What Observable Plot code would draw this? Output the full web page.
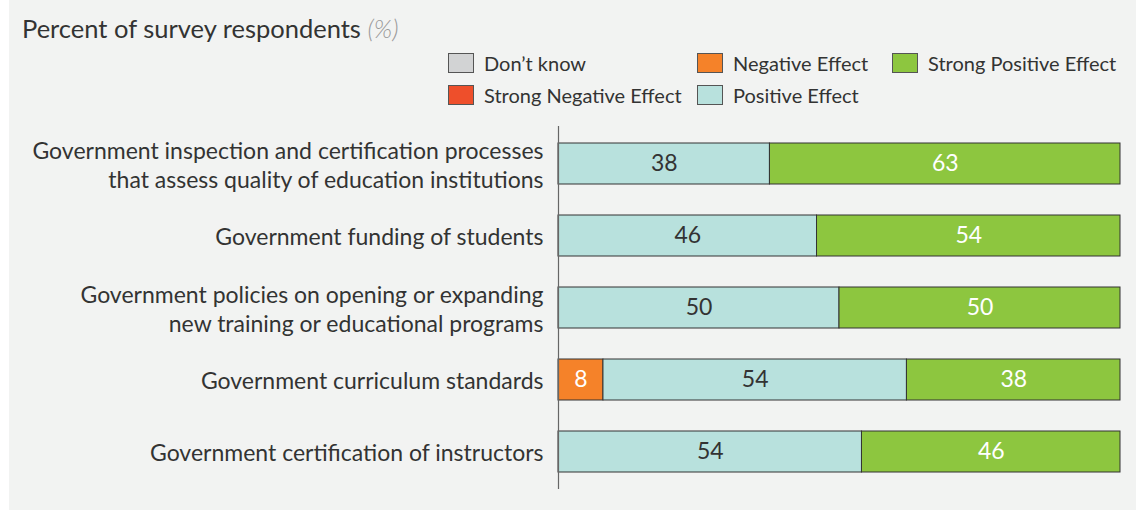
<!DOCTYPE html>
<html>
<head>
<meta charset="utf-8">
<script src="https://cdn.jsdelivr.net/npm/d3@7"></script>
<script src="https://cdn.jsdelivr.net/npm/@observablehq/plot@0.6"></script>
<style>
  html, body { margin: 0; padding: 0; background: #ffffff; }
  #panel { position: absolute; left: 9px; top: 0; width: 1127px; height: 510px; background: #f2f3f2; font-family: Lato, "Open Sans", sans-serif; color: #333; }
  #title { position: absolute; left: 13px; top: 13px; font-size: 25.5px; white-space: nowrap; }
  #title em { color: #9a9a9a; font-style: italic; font-weight: 300; }
  #legend { position: absolute; left: 439px; top: 52px; display: grid; grid-template-columns: 249px 195px 240px; row-gap: 10px; }
  .item { display: flex; align-items: center; height: 22px; font-size: 20px; white-space: nowrap; }
  .sw { width: 26px; height: 20px; box-sizing: border-box; border: 1.5px solid #555; margin-right: 10px; }
  #chart { position: absolute; left: 0; top: 0; }
</style>
</head>
<body>
<div id="panel">
  <div id="chart"></div>
  <div id="title">Percent of survey respondents <em>(%)</em></div>
  <div id="legend"></div>
</div>
<script>
const categories = [
  "Government inspection and certification processes\nthat assess quality of education institutions",
  "Government funding of students",
  "Government policies on opening or expanding\nnew training or educational programs",
  "Government curriculum standards",
  "Government certification of instructors"
];
const seriesNames = ["Strong Negative Effect", "Negative Effect", "Don’t know", "Positive Effect", "Strong Positive Effect"];
const seriesColors = ["#ee4f2b", "#f58229", "#d2d3d4", "#b8e1dd", "#8dc63f"];
const legendOrder = ["Don’t know", "Negative Effect", "Strong Positive Effect", "Strong Negative Effect", "Positive Effect"];

const strongNegative = [0, 0, 0, 0, 0];
const negative       = [0, 0, 0, 8, 0];
const dontKnow       = [0, 0, 0, 0, 0];
const positive       = [38, 46, 50, 54, 54];
const strongPositive = [63, 54, 50, 38, 46];

const seriesValues = [strongNegative, negative, dontKnow, positive, strongPositive];
const darkText = new Set(["Positive Effect", "Don’t know"]);

const data = [];
categories.forEach((c, i) => {
  seriesNames.forEach((s, j) => {
    const v = seriesValues[j][i];
    if (v > 0) data.push({category: c, series: s, value: v});
  });
});

// legend
const legend = document.getElementById("legend");
legendOrder.forEach(name => {
  const col = seriesColors[seriesNames.indexOf(name)];
  const it = document.createElement("div");
  it.className = "item";
  it.innerHTML = `<span class="sw" style="background:${col}"></span><span>${name}</span>`;
  legend.appendChild(it);
});

const stackOpts = {offset: "normalize", order: seriesNames};

const plot = Plot.plot({
  width: 1127,
  height: 510,
  marginLeft: 549,
  marginRight: 16,
  marginTop: 126,
  marginBottom: 21,
  style: {background: "transparent", fontFamily: "Lato, 'Open Sans', sans-serif", color: "#333"},
  x: {axis: null, domain: [0, 1]},
  y: {domain: categories, paddingInner: 0.434, paddingOuter: 0.22, label: null},
  color: {domain: seriesNames, range: seriesColors},
  marks: [
    Plot.axisY({tickSize: 0, tickPadding: 15, fontSize: 23, lineHeight: 1.26, label: null, fill: "#333"}),
    Plot.barX(data, Plot.stackX(stackOpts, {x: "value", y: "category", fill: "series", z: "series", stroke: "#333", strokeWidth: 1})),
    Plot.text(data, Plot.filter(d => darkText.has(d.series), Plot.stackX(stackOpts, {x: "value", y: "category", z: "series", text: d => String(d.value), fill: "#333", fontSize: 23}))),
    Plot.text(data, Plot.filter(d => !darkText.has(d.series), Plot.stackX(stackOpts, {x: "value", y: "category", z: "series", text: d => String(d.value), fill: "#ffffff", fontSize: 23}))),
    Plot.ruleX([0], {stroke: "#666", strokeWidth: 1.2})
  ]
});
document.getElementById("chart").appendChild(plot);
</script>
</body>
</html>
